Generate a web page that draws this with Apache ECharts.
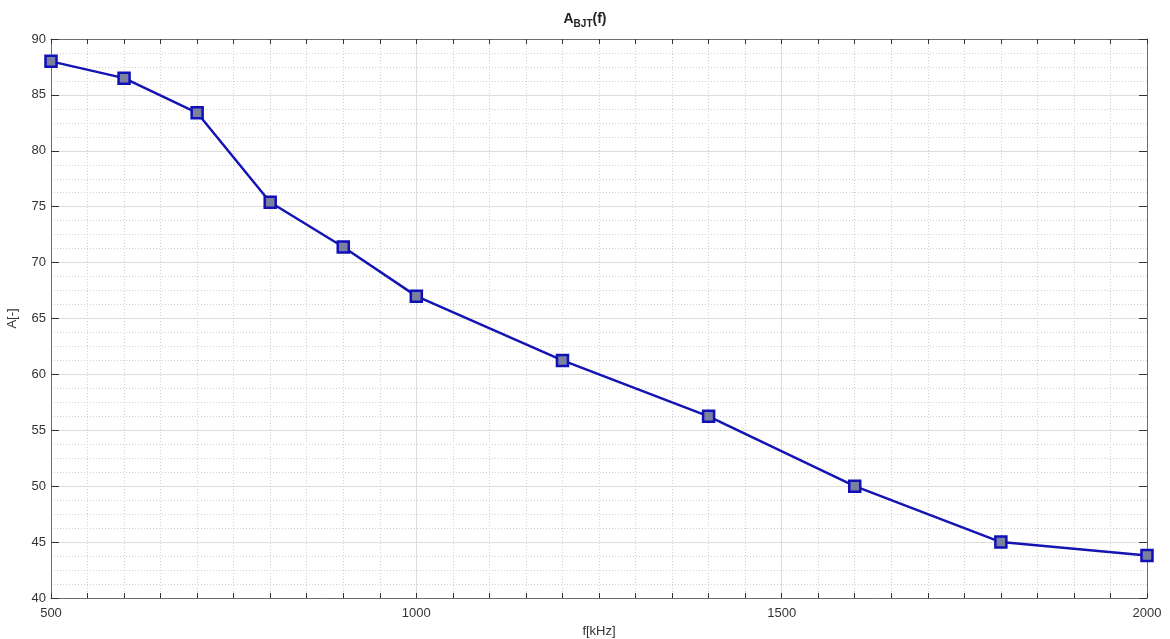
<!DOCTYPE html>
<html>
<head>
<meta charset="utf-8">
<script src="https://cdn.jsdelivr.net/npm/echarts@6/dist/echarts.min.js"></script>
<style>
  html, body { margin: 0; padding: 0; background: #fff; }
  #chart { width: 1170px; height: 639px; }
</style>
</head>
<body>
<div id="chart"></div>
<script>
// frequency [kHz] and gain values
var aoFreq = [500, 600, 700, 800, 900, 1000, 1200, 1400, 1600, 1800, 2000];
var aoGain = [88, 86.5, 83.4, 75.4, 71.4, 67, 61.25, 56.25, 50, 45, 43.8];

var aoData = [];
for (var i = 0; i < aoFreq.length; i++) {
    aoData.push([aoFreq[i], aoGain[i]]);
}

var oChart = echarts.init(document.getElementById('chart'));

var cFont = 'Liberation Sans, Arial, sans-serif';
var oAxisLine = { lineStyle: { color: '#6e6e6e', width: 1 } };

var oOpt = {
    backgroundColor: '#fff',
    animation: false,
    title: {
        text: '{a|A}{s|BJT}{a|(f)}',
        left: 'center',
        top: 4,
        textStyle: {
            rich: {
                a: { fontFamily: cFont, fontSize: 14, fontWeight: 'bold', color: '#222' },
                s: { fontFamily: cFont, fontSize: 10, fontWeight: 'bold', color: '#222', padding: [10, 0, 0, 0] }
            }
        }
    },
    grid: {
        left: 51, right: 23, top: 39, bottom: 41,
        containLabel: false,
        outerBoundsMode: 'none'
    },
    xAxis: [{
        type: 'value',
        min: 500, max: 2000, interval: 500,
        name: 'f[kHz]',
        nameLocation: 'middle',
        nameGap: 27,
        nameTextStyle: { fontFamily: cFont, fontSize: 13, color: '#333' },
        axisLine: oAxisLine,
        axisTick: { inside: true, length: 5, lineStyle: { color: '#333' } },
        minorTick: { show: true, splitNumber: 10, length: 5, lineStyle: { color: '#333' } },
        axisLabel: {
            fontFamily: cFont, fontSize: 13, color: '#333', margin: 9,
            formatter: function (v) { return String(v); }
        },
        splitLine: { show: true, lineStyle: { color: '#dcdcdc', width: 1 } },
        minorSplitLine: { show: true, lineStyle: { color: '#d0d0d0', type: [1, 2], width: 1 } }
    }, {
        type: 'value',
        position: 'top',
        min: 500, max: 2000, interval: 50,
        axisLine: oAxisLine,
        axisTick: { inside: true, length: 5, lineStyle: { color: '#333' } },
        axisLabel: { show: false },
        splitLine: { show: false }
    }],
    yAxis: [{
        type: 'value',
        min: 40, max: 90, interval: 5,
        name: 'A[-]',
        nameLocation: 'middle',
        nameGap: 32,
        nameTextStyle: { fontFamily: cFont, fontSize: 13, color: '#333' },
        axisLine: { show: true, lineStyle: { color: '#6e6e6e', width: 1 } },
        axisTick: { inside: true, length: 8, lineStyle: { color: '#333' } },
        minorTick: { show: false, splitNumber: 4 },
        axisLabel: { fontFamily: cFont, fontSize: 13, color: '#333', margin: 5 },
        splitLine: { show: true, lineStyle: { color: '#dcdcdc', width: 1 } },
        minorSplitLine: { show: true, lineStyle: { color: '#d0d0d0', type: [1, 2], width: 1 } }
    }, {
        type: 'value',
        position: 'right',
        min: 40, max: 90, interval: 5,
        axisLine: { show: true, lineStyle: { color: '#6e6e6e', width: 1 } },
        axisTick: { show: true, inside: true, length: 8, lineStyle: { color: '#333' } },
        axisLabel: { show: false },
        splitLine: { show: false }
    }],
    series: [{
        type: 'line',
        data: aoData,
        symbol: 'rect',
        symbolSize: 11,
        lineStyle: { color: '#1414b4', width: 2.5 },
        itemStyle: { color: '#7b7fa0', borderColor: '#1010b8', borderWidth: 2.5 },
        z: 3
    }]
};

oChart.setOption(oOpt);
</script>
</body>
</html>
